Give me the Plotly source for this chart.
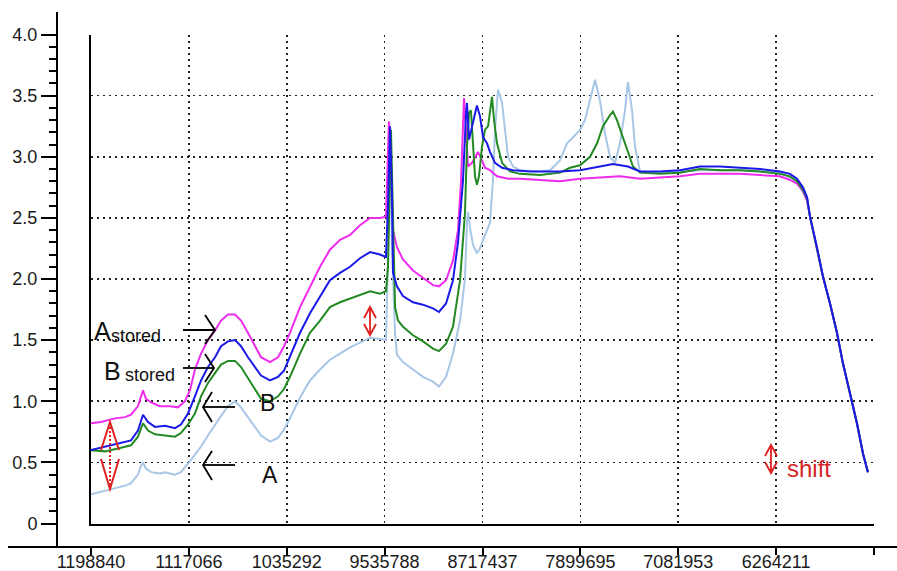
import plotly.graph_objects as go

W, H = 897, 571

# ---------------- data ----------------
TICK_VALS = [1198.840, 1117.066, 1035.292, 953.5788, 871.7437, 789.9695, 708.1953, 626.4211, 544.6469]
TICK_TEXT = ["1198840", "1117066", "1035292", "9535788", "8717437", "7899695", "7081953", "6264211", ""]
Y_TICKS = [0, 0.5, 1.0, 1.5, 2.0, 2.5, 3.0, 3.5, 4.0]
Y_TEXT = ["0", "0.5", "1.0", "1.5", "2.0", "2.5", "3.0", "3.5", "4.0"]
Y_MINOR = [0.1, 0.2, 0.3, 0.4, 0.6, 0.7, 0.8, 0.9, 1.1, 1.2, 1.3, 1.4, 1.6, 1.7, 1.8, 1.9,
           2.1, 2.2, 2.3, 2.4, 2.6, 2.7, 2.8, 2.9, 3.1, 3.2, 3.3, 3.4, 3.6, 3.7, 3.8, 3.9]

DECL_X = [598.1, 592.3, 587.3, 581.4, 575.6, 570.6, 564.7, 558.9, 553.8, 549.7]
DECL_Y = [2.51, 2.26, 2.02, 1.80, 1.56, 1.31, 1.06, 0.82, 0.57, 0.42]

# A (light blue)
A_X = [1198.84, 1190.5, 1178.8, 1170.4, 1165.4, 1159.6, 1157.1, 1155.4, 1152.9, 1148.7, 1141.2, 1137.0,
       1128.7, 1123.7, 1116.1, 1106.9, 1101.1, 1095.2, 1090.2, 1084.4, 1078.5, 1073.5, 1067.7, 1061.8,
       1056.8, 1049.3, 1042.6, 1037.6, 1032.6, 1024.2, 1015.9, 1007.5, 999.2, 990.8, 982.4, 974.1, 965.7,
       957.4, 952.4, 950.7, 949.0, 947.4, 944.8, 943.2, 938.2, 929.8, 921.5, 913.1, 908.1, 902.2, 896.4,
       890.5, 886.4, 884.7, 883.9, 882.2, 879.7, 876.4, 873.8, 871.3, 865.5, 863.0, 861.3, 858.8, 855.4,
       852.9, 850.4, 846.3, 840.4, 823.7, 815.3, 807.0, 801.1, 796.1, 790.3, 786.1, 781.9, 777.7, 773.6,
       769.4, 765.2, 761.0, 756.9, 752.7, 750.2, 746.8, 744.3, 740.1, 723.5, 690.0, 656.6, 623.2, 609.0,
       600.6] + DECL_X
A_Y = [0.24, 0.26, 0.29, 0.31, 0.33, 0.40, 0.47, 0.50, 0.45, 0.42, 0.41, 0.42,
       0.40, 0.42, 0.51, 0.63, 0.72, 0.81, 0.88, 0.96, 1.00, 0.95, 0.87, 0.79,
       0.72, 0.67, 0.70, 0.77, 0.86, 1.03, 1.17, 1.26, 1.34, 1.39, 1.44, 1.48, 1.52,
       1.51, 1.50, 2.20, 3.12, 2.30, 1.55, 1.38, 1.32, 1.26, 1.20, 1.16, 1.12, 1.20, 1.39,
       1.66, 2.00, 2.48, 2.55, 2.42, 2.28, 2.21, 2.25, 2.32, 2.46, 2.81, 3.22, 3.55, 3.44,
       3.22, 3.00, 2.92, 2.89, 2.88, 2.89, 2.97, 3.11, 3.16, 3.22, 3.30, 3.46, 3.63, 3.46,
       3.19, 3.00, 2.95, 3.11, 3.38, 3.61, 3.38, 3.08, 2.88, 2.87, 2.89, 2.89, 2.87, 2.80,
       2.65] + DECL_Y

# A stored (magenta)
AS_X = [1198.84, 1190.5, 1178.8, 1170.4, 1165.4, 1159.6, 1155.4, 1152.9, 1148.7, 1141.2, 1132.8, 1126.2,
        1120.3, 1116.1, 1112.0, 1106.9, 1101.1, 1095.2, 1090.2, 1084.4, 1078.5, 1073.5, 1067.7, 1061.8,
        1056.8, 1049.3, 1042.6, 1037.6, 1032.6, 1024.2, 1015.9, 1007.5, 999.2, 990.8, 982.4, 974.1, 965.7,
        957.4, 952.4, 950.7, 949.9, 948.2, 946.5, 943.2, 938.2, 929.8, 921.5, 913.1, 908.1, 902.2, 896.4,
        892.2, 889.7, 887.2, 885.5, 883.9, 880.5, 878.0, 875.5, 872.2, 869.7, 865.5, 859.6, 850.4, 840.4,
        823.7, 807.0, 790.3, 773.6, 756.9, 740.1, 723.5, 706.8, 690.0, 673.3, 656.6, 639.9, 623.2, 614.8,
        609.0, 604.0, 600.6] + DECL_X
AS_Y = [0.82, 0.83, 0.86, 0.87, 0.89, 0.96, 1.09, 1.02, 0.99, 0.96, 0.96, 0.95,
        1.00, 1.09, 1.26, 1.39, 1.50, 1.58, 1.66, 1.71, 1.71, 1.66, 1.56, 1.45,
        1.36, 1.32, 1.36, 1.45, 1.56, 1.77, 1.94, 2.10, 2.24, 2.32, 2.36, 2.44, 2.50,
        2.50, 2.51, 3.00, 3.29, 2.90, 2.40, 2.26, 2.16, 2.07, 2.01, 1.95, 1.94, 1.99, 2.15,
        2.40, 2.80, 3.48, 3.22, 2.92, 2.95, 3.00, 3.04, 2.97, 2.91, 2.89, 2.84, 2.82, 2.82,
        2.81, 2.80, 2.82, 2.83, 2.84, 2.82, 2.83, 2.84, 2.86, 2.86, 2.86, 2.85, 2.84, 2.81,
        2.78, 2.72, 2.64] + DECL_Y

# B (green)
B_X = [1198.84, 1187.1, 1173.8, 1165.4, 1159.6, 1155.4, 1151.2, 1145.4, 1137.0, 1128.7, 1123.7, 1117.8,
       1112.0, 1106.9, 1101.1, 1095.2, 1090.2, 1084.4, 1078.5, 1073.5, 1067.7, 1061.8, 1056.8, 1049.3,
       1042.6, 1037.6, 1032.6, 1024.2, 1015.9, 1007.5, 999.2, 990.8, 982.4, 974.1, 965.7, 957.4, 952.4,
       950.7, 949.0, 948.2, 946.5, 944.8, 942.3, 938.2, 929.8, 921.5, 913.1, 908.1, 902.2, 896.4, 890.5,
       886.4, 884.7, 883.0, 881.4, 879.7, 878.0, 876.4, 874.7, 872.2, 869.7, 867.1, 865.5, 863.8, 862.1,
       859.6, 855.4, 848.8, 840.4, 823.7, 807.0, 798.6, 790.3, 781.9, 776.0, 771.1, 765.2, 762.7, 759.4,
       756.9, 754.3, 750.2, 746.0, 740.1, 723.5, 706.8, 690.0, 673.3, 656.6, 639.9, 623.2, 614.8, 609.0,
       604.0, 600.6] + DECL_X
B_Y = [0.60, 0.59, 0.62, 0.64, 0.71, 0.82, 0.76, 0.73, 0.72, 0.71, 0.74, 0.81,
       0.90, 1.04, 1.15, 1.23, 1.30, 1.33, 1.33, 1.28, 1.19, 1.09, 1.02, 1.00,
       1.04, 1.10, 1.20, 1.39, 1.56, 1.66, 1.77, 1.81, 1.84, 1.87, 1.90, 1.88, 1.90,
       2.10, 2.90, 3.22, 2.50, 1.77, 1.66, 1.61, 1.54, 1.49, 1.43, 1.41, 1.47, 1.61, 1.99,
       2.54, 3.08, 3.36, 3.38, 3.08, 2.84, 2.77, 2.84, 3.08, 3.22, 3.25, 3.36, 3.49, 3.30,
       3.11, 2.95, 2.88, 2.86, 2.85, 2.87, 2.91, 2.93, 3.00, 3.11, 3.25, 3.34, 3.37, 3.30,
       3.23, 3.16, 3.03, 2.92, 2.87, 2.86, 2.87, 2.90, 2.89, 2.89, 2.88, 2.86, 2.84, 2.80,
       2.73, 2.66] + DECL_Y

# B stored (blue)
BS_X = [1198.84, 1187.1, 1173.8, 1165.4, 1159.6, 1155.4, 1151.2, 1145.4, 1137.0, 1128.7, 1123.7, 1117.8,
        1112.0, 1106.9, 1101.1, 1095.2, 1090.2, 1084.4, 1078.5, 1073.5, 1067.7, 1061.8, 1056.8, 1049.3,
        1042.6, 1037.6, 1032.6, 1024.2, 1015.9, 1007.5, 999.2, 990.8, 982.4, 974.1, 965.7, 957.4, 952.4,
        950.7, 949.0, 947.4, 946.5, 943.2, 938.2, 929.8, 921.5, 913.1, 908.1, 902.2, 896.4, 892.2, 889.7,
        888.0, 885.5, 884.7, 883.0, 880.5, 878.0, 876.4, 873.8, 871.3, 868.0, 865.5, 861.3, 855.4, 846.3,
        832.1, 807.0, 790.3, 773.6, 762.7, 750.2, 740.1, 723.5, 706.8, 690.0, 673.3, 656.6, 639.9, 623.2,
        614.8, 609.0, 604.0, 600.6] + DECL_X
BS_Y = [0.60, 0.63, 0.66, 0.68, 0.76, 0.89, 0.83, 0.79, 0.80, 0.78, 0.81, 0.90,
        1.04, 1.17, 1.28, 1.36, 1.45, 1.49, 1.50, 1.45, 1.36, 1.28, 1.21, 1.17,
        1.20, 1.25, 1.36, 1.56, 1.72, 1.86, 1.99, 2.05, 2.10, 2.17, 2.22, 2.20, 2.18,
        2.60, 3.25, 2.70, 2.05, 1.94, 1.86, 1.81, 1.79, 1.76, 1.73, 1.80, 1.99, 2.30, 2.65,
        2.81, 3.36, 3.44, 3.14, 3.25, 3.36, 3.42, 3.33, 3.16, 3.11, 3.04, 2.95, 2.91, 2.89,
        2.88, 2.88, 2.89, 2.92, 2.94, 2.92, 2.88, 2.88, 2.89, 2.92, 2.92, 2.91, 2.90, 2.88,
        2.86, 2.82, 2.75, 2.67] + DECL_Y

SERIES = [
    ("A", A_X, A_Y, "#a8c6e6", 2.0),
    ("A stored", AS_X, AS_Y, "#ee2cee", 2.0),
    ("B", B_X, B_Y, "#238a23", 2.0),
    ("B stored", BS_X, BS_Y, "#1a1ae6", 2.0),
]

# ---------------- geometry helpers ----------------
def px(x):
    return x / W

def py(y):
    return 1 - y / H

fig = go.Figure()
for name, xs, ys, col, lw in SERIES:
    fig.add_trace(go.Scatter(x=xs, y=ys, mode="lines", name=name,
                             line=dict(color=col, width=lw), xaxis="x", yaxis="y",
                             showlegend=False, hoverinfo="skip"))
# anchor trace for outer axes
fig.add_trace(go.Scatter(x=[], y=[], xaxis="x2", yaxis="y2", showlegend=False))

GRID = dict(showgrid=True, gridcolor="#222222", gridwidth=1.6, griddash="2px,4px")

X_PER_PX = (TICK_VALS[0] - TICK_VALS[-1]) / (874 - 91)
Y_PER_PX = 4.0 / (523.5 - 34.5)

fig.update_layout(
    width=W, height=H, autosize=False,
    margin=dict(l=0, r=0, t=0, b=0, pad=0, autoexpand=False),
    paper_bgcolor="white", plot_bgcolor="rgba(0,0,0,0)",
    font=dict(family="Liberation Sans, Arial, sans-serif", color="#1a1a1a"),
    showlegend=False,
    xaxis=dict(domain=[px(91), px(874)], range=[TICK_VALS[0], TICK_VALS[-1]], anchor="y",
               showline=True, linecolor="black", linewidth=2, ticks="", showticklabels=False,
               tickmode="array", tickvals=TICK_VALS, zeroline=False, automargin=False, **GRID),
    yaxis=dict(domain=[py(523.5), py(34.5)], range=[0, 4], anchor="x",
               showline=True, linecolor="black", linewidth=2, ticks="", showticklabels=False,
               tickmode="array", tickvals=Y_TICKS, zeroline=False, automargin=False, **GRID),
    xaxis2=dict(domain=[px(8), 1], anchor="free", position=py(547),
                range=[TICK_VALS[0] + (91 - 8) * X_PER_PX, TICK_VALS[-1] - (897 - 874) * X_PER_PX],
                showline=True, linecolor="black", linewidth=2,
                ticks="outside", ticklen=7, tickwidth=2, tickcolor="black",
                tickmode="array", tickvals=TICK_VALS, ticktext=TICK_TEXT, automargin=False,
                ticklabelstandoff=-9,
                tickfont=dict(size=18, color="#1a1a1a"), showgrid=False, zeroline=False),
    yaxis2=dict(domain=[py(547), py(12)], anchor="free", position=px(57),
                range=[-(547 - 523.5) * Y_PER_PX, 4 + (34.5 - 12) * Y_PER_PX],
                showline=True, linecolor="black", linewidth=2,
                ticks="outside", ticklen=15, tickwidth=2, tickcolor="black",
                tickmode="array", tickvals=Y_TICKS, ticktext=Y_TEXT, automargin=False,
                tickfont=dict(size=18, color="#1a1a1a"), showgrid=False, zeroline=False,
                minor=dict(tickmode="array", tickvals=Y_MINOR, ticks="outside", ticklen=7,
                           tickwidth=2, tickcolor="black", showgrid=False)),
)

# ---------------- labels ----------------
def label(text, x, ymid, size, color="#111111"):
    fig.add_annotation(text=text, x=px(x), y=py(ymid), xref="paper", yref="paper",
                       xanchor="left", yanchor="middle", showarrow=False,
                       font=dict(size=size, color=color), borderpad=0)

label("A", 93, 331, 25)
label("stored", 110, 336, 18)
label("B", 103, 371, 25)
label("stored", 124, 375, 18)
label("B", 259, 403, 23)
label("A", 261, 475, 23)
label("shift", 786, 468, 24, color="#d42626")

def path(points):
    return "M " + " L ".join(f"{px(a):.5f},{py(b):.5f}" for a, b in points)

def stroke(points, color, width, dash="solid"):
    fig.add_shape(type="path", path=path(points), xref="paper", yref="paper",
                  line=dict(color=color, width=width, dash=dash))

# black arrows
stroke([(183, 330), (215, 330)], "black", 1.8)
stroke([(205, 315), (215, 330), (205, 344)], "black", 1.8)
stroke([(183, 368), (214, 368)], "black", 1.8)
stroke([(205, 354), (214, 368), (205, 382)], "black", 1.8)
stroke([(235, 407), (203, 407)], "black", 1.8)
stroke([(212, 392), (203, 407), (212, 422)], "black", 1.8)
stroke([(235, 465), (203, 465)], "black", 1.8)
stroke([(212, 451), (203, 465), (212, 480)], "black", 1.8)

RED = "#e02020"
# left red double arrow (dotted shaft)
stroke([(110, 423), (110, 488)], RED, 2, dash="2px,2px")
stroke([(101, 450), (110, 422), (119, 450)], RED, 2)
stroke([(101, 459), (110, 489), (119, 459)], RED, 2)
# middle red double arrow
stroke([(370, 307), (370, 335)], RED, 1.8)
stroke([(364, 318), (370, 307), (376, 318)], RED, 1.8)
stroke([(364, 324), (370, 335), (376, 324)], RED, 1.8)
# right red double arrow
stroke([(771, 445), (771, 473)], RED, 1.8)
stroke([(765, 456), (771, 445), (777, 456)], RED, 1.8)
stroke([(765, 462), (771, 473), (777, 462)], RED, 1.8)

fig.write_html(
    "out.html",
    config={"responsive": False, "displayModeBar": False, "staticPlot": True},
    post_script="document.body.style.margin='0';document.body.style.padding='0';"
                "document.documentElement.style.overflow='hidden';",
)
